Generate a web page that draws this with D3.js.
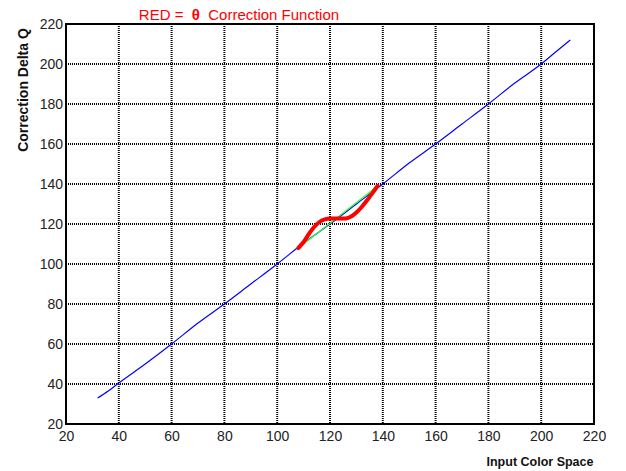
<html lang="en">
<head>
  <meta charset="utf-8" />
  <script src="https://d3js.org/d3.v7.min.js"></script>
  <style>
    body { margin: 0; background: #fff; }
    text { font-family: "Liberation Sans", Arial, sans-serif; }
  </style>
</head>
<body>
<script>
  // values
  var xTicks = [20, 40, 60, 80, 100, 120, 140, 160, 180, 200, 220];
  var yTicks = [20, 40, 60, 80, 100, 120, 140, 160, 180, 200, 220];

  var blueLine = [[32, 33], [36, 36.5], [40, 40.5], [50, 50], [60, 60], [70, 70.5], [80, 80],
                  [90, 90], [100, 100], [110, 110.5], [120, 120], [130, 130], [140, 140],
                  [150, 150.5], [160, 160], [170, 170], [180, 180], [190, 190.5], [200, 200],
                  [205, 205.5], [211, 212]];

  var greenLine = [[108, 108], [138, 139]];

  var redCurve = [[108, 108], [110, 111], [112, 115], [114, 118.5], [116, 121], [118, 122.3],
                  [120, 122.8], [122, 122.8], [124, 122.7], [126, 122.8], [128, 123.8],
                  [130, 125.8], [132, 128.5], [134, 131.8], [136, 135.3], [138, 139]];

  var svg = d3.select("body")
              .append("svg")
              .attr("width", 626)
              .attr("height", 471);

  // plot box (named so they do not clash with window.top)
  var pLeft = 66, pRight = 594, pTop = 24, pBottom = 424;

  var x = d3.scaleLinear().domain([20, 220]).range([pLeft, pRight]);
  var y = d3.scaleLinear().domain([20, 220]).range([pBottom, pTop]);

  // dotted grid
  svg.selectAll("line.vgrid")
    .data(xTicks.slice(1, -1))
    .join("line")
    .attr("class", "vgrid")
    .attr("x1", function (d) { return x(d); })
    .attr("x2", function (d) { return x(d); })
    .attr("y1", pTop)
    .attr("y2", pBottom)
    .attr("stroke", "#000")
    .attr("stroke-width", 2)
    .attr("stroke-dasharray", "1,1");

  svg.selectAll("line.hgrid")
    .data(yTicks.slice(1, -1))
    .join("line")
    .attr("class", "hgrid")
    .attr("x1", pLeft)
    .attr("x2", pRight)
    .attr("y1", function (d) { return y(d); })
    .attr("y2", function (d) { return y(d); })
    .attr("stroke", "#000")
    .attr("stroke-width", 2)
    .attr("stroke-dasharray", "1,1");

  // frame
  svg.append("rect")
    .attr("x", pLeft)
    .attr("y", pTop)
    .attr("width", pRight - pLeft)
    .attr("height", pBottom - pTop)
    .attr("fill", "none")
    .attr("stroke", "#000")
    .attr("stroke-width", 2);

  // tick labels via d3 axes, no tick lines
  var xAxis = svg.append("g")
    .attr("transform", "translate(0," + pBottom + ")")
    .call(d3.axisBottom(x).tickValues(xTicks).tickSize(0).tickPadding(7));
  var yAxis = svg.append("g")
    .attr("transform", "translate(" + pLeft + ",0)")
    .call(d3.axisLeft(y).tickValues(yTicks).tickSize(0).tickPadding(3));
  [xAxis, yAxis].forEach(function (g) {
    g.select(".domain").remove();
    g.selectAll("text")
      .attr("font-size", 14)
      .attr("font-family", "Liberation Sans, Arial, sans-serif")
      .attr("fill", "#222");
  });

  var line = d3.line()
    .x(function (d) { return x(d[0]); })
    .y(function (d) { return y(d[1]); })
    .curve(d3.curveMonotoneX);

  svg.append("path")
    .attr("d", line(blueLine))
    .attr("fill", "none")
    .attr("stroke", "#0000ff")
    .attr("stroke-width", 1.2);

  svg.append("path")
    .attr("d", line(greenLine))
    .attr("fill", "none")
    .attr("stroke", "#33ff33")
    .attr("stroke-width", 1.3);

  svg.append("path")
    .attr("d", line(redCurve))
    .attr("fill", "none")
    .attr("stroke", "#ff0000")
    .attr("stroke-width", 4)
    .attr("stroke-linecap", "round");

  // titles
  var title = svg.append("text")
    .attr("x", 239)
    .attr("y", 20)
    .attr("text-anchor", "middle")
    .attr("font-size", 15)
    .attr("fill", "#ff0000");
  title.append("tspan").text("RED\u00A0=\u00A0\u00A0");
  title.append("tspan").attr("font-weight", "bold").text("\u03B8");
  title.append("tspan").text("\u00A0\u00A0Correction Function");

  svg.append("text")
    .attr("transform", "translate(28,90) rotate(-90)")
    .attr("text-anchor", "middle")
    .attr("font-size", 14)
    .attr("font-weight", "bold")
    .attr("fill", "#111")
    .text("Correction Delta Q");

  svg.append("text")
    .attr("x", 540)
    .attr("y", 466)
    .attr("text-anchor", "middle")
    .attr("font-size", 12.5)
    .attr("font-weight", "bold")
    .attr("fill", "#111")
    .text("Input Color Space");
</script>
</body>
</html>
